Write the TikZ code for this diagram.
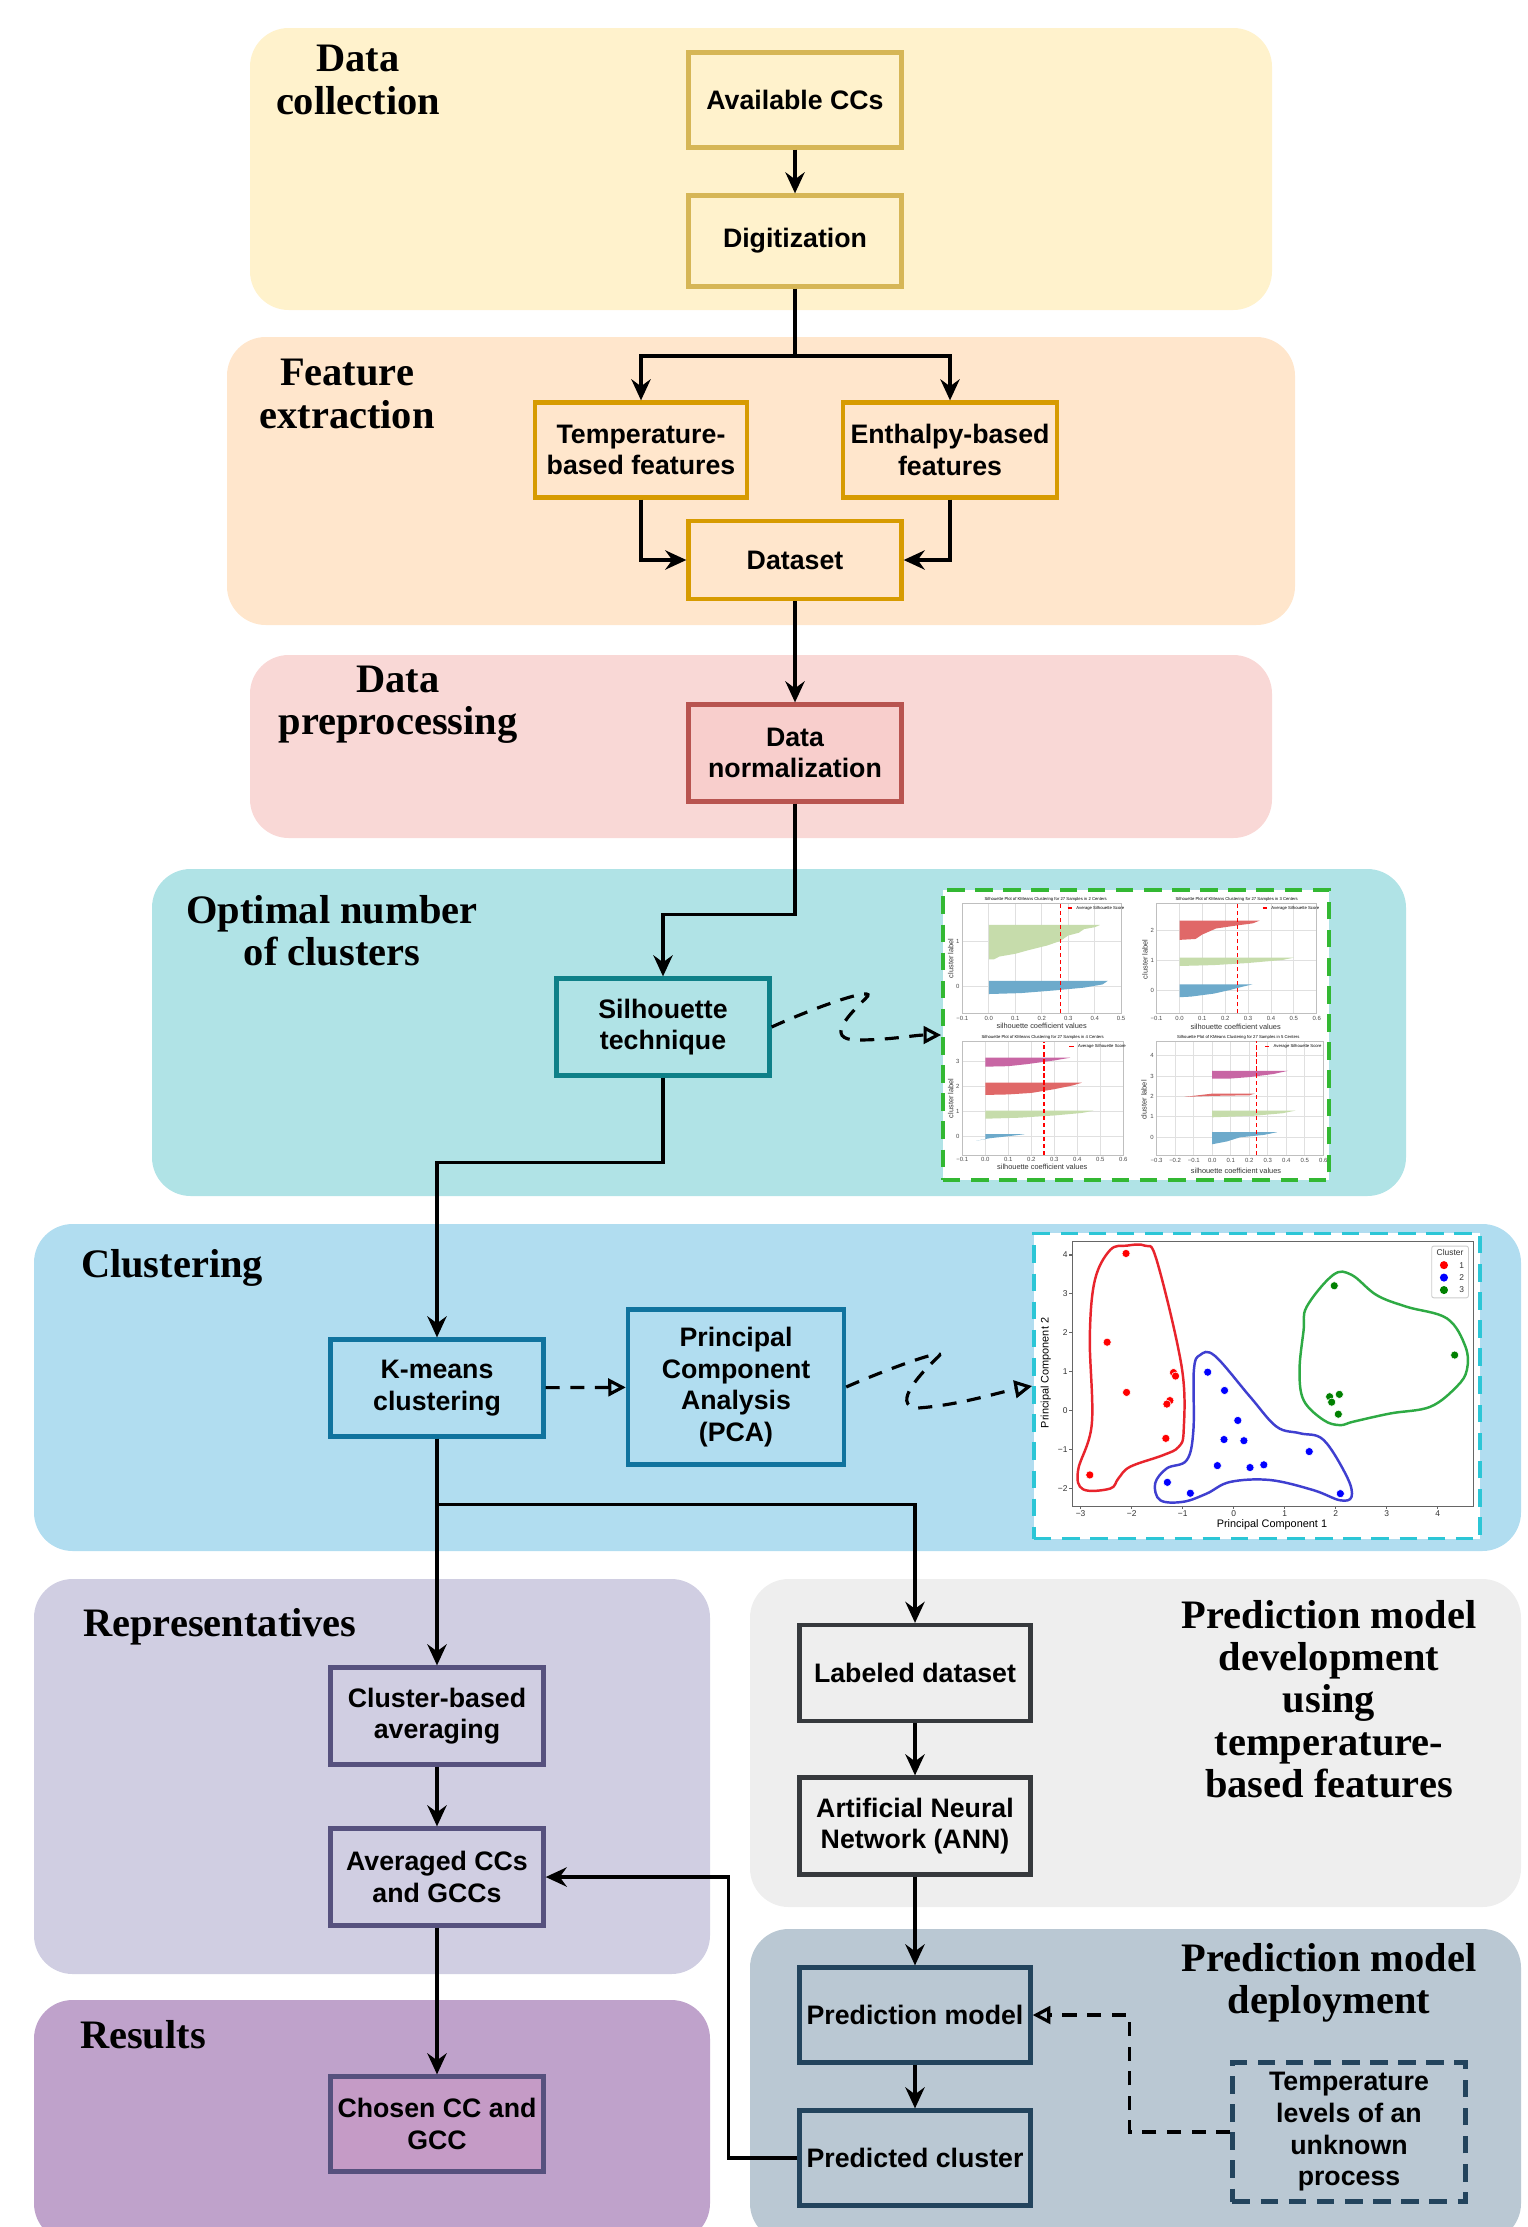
\documentclass[tikz,border=0pt]{standalone}
\usepackage{fontspec}
\setmainfont{Liberation Serif}
\setsansfont{Liberation Sans}
\usetikzlibrary{arrows.meta,positioning}

% panel and box colours
\definecolor{collectbg}{HTML}{FFF2CC}
\definecolor{collectln}{HTML}{D6B656}
\definecolor{featurebg}{HTML}{FFE6CC}
\definecolor{featureln}{HTML}{D79B00}
\definecolor{prepbg}{HTML}{F9D8D6}
\definecolor{prepbox}{HTML}{F8CECC}
\definecolor{prepln}{HTML}{B85450}
\definecolor{optbg}{HTML}{B0E3E6}
\definecolor{optln}{HTML}{0E8088}
\definecolor{clustbg}{HTML}{B1DDF0}
\definecolor{clustln}{HTML}{10739E}
\definecolor{reprbg}{HTML}{D0CEE2}
\definecolor{reprln}{HTML}{56517E}
\definecolor{resbg}{HTML}{BFA2CB}
\definecolor{resbox}{HTML}{C59BC6}
\definecolor{devbg}{HTML}{EEEEEE}
\definecolor{devln}{HTML}{36393D}
\definecolor{depbg}{HTML}{BAC8D3}
\definecolor{depln}{HTML}{23445D}
% plot colours
\definecolor{silframe}{HTML}{33B833}
\definecolor{pcaframe}{HTML}{2CC6D6}
\definecolor{silgreen}{HTML}{C6DCAB}
\definecolor{silblue}{HTML}{6DAACB}
\definecolor{silred}{HTML}{E06868}
\definecolor{silmag}{HTML}{C866A4}
\definecolor{ptred}{HTML}{FF0000}
\definecolor{ptblue}{HTML}{0000FF}
\definecolor{ptgreen}{HTML}{008000}
\definecolor{hullred}{HTML}{E8242C}
\definecolor{hullblue}{HTML}{3F3FD0}
\definecolor{hullgreen}{HTML}{2EAA44}

\newcommand{\boxfont}{\sffamily\bfseries\fontsize{7.6}{9}\selectfont}
\newcommand{\titlefont}{\rmfamily\bfseries\fontsize{11.5}{12}\selectfont}
\newcommand{\plotfont}[1]{\sffamily\fontsize{#1}{#1}\selectfont}

\tikzset{
  panel/.style={rounded corners=11pt},
  paneltitle/.style={font=\titlefont, align=center, inner sep=0pt},
  stepbox/.style={rectangle, line width=1.2pt, align=center, inner sep=1pt,
    font=\boxfont, minimum width=2.13cm, minimum height=0.95cm},
  flow/.style={line width=0.9pt, -{Stealth[length=6pt,width=5.5pt,inset=2pt]}},
  hintflow/.style={line width=0.9pt, dash pattern=on 4pt off 3pt,
    -{Triangle[open,length=5pt,width=5pt]}},
  plotframe/.style={line width=1pt, dash pattern=on 5pt off 3pt, fill=white},
  gridline/.style={black!12, line width=0.25pt},
  ticklbl/.style={font=\plotfont{1.7}, text=black!70, inner sep=0.6pt},
  axlbl/.style={font=\plotfont{2.1}, text=black!80, inner sep=0pt},
  plottitle/.style={font=\plotfont{1.2}, inner sep=0pt},
  avgline/.style={red, line width=0.35pt, dash pattern=on 1.2pt off 0.8pt},
  pcatick/.style={font=\plotfont{2.4}, text=black!80, inner sep=0.6pt},
  pcalbl/.style={font=\plotfont{3.1}, inner sep=0pt},
}

% grid, ticks and frame of one silhouette subplot
\newcommand{\silaxes}[6]{%
  \foreach \v/\l in {#5} {%
    \draw[gridline] (\v,#3) -- (\v,#4);
    \node[ticklbl, below] at (\v,#3) {\l};
  }
  \foreach \v in {#6} {%
    \draw[gridline] (#1,\v) -- (#2,\v);
    \node[ticklbl, left] at (#1,\v) {\v};
  }
  \draw[black!25, line width=0.25pt] (#1,#3) rectangle (#2,#4);
}

\begin{document}
\begin{tikzpicture}[x=0.01cm, y=-0.01cm]
\useasboundingbox (0,0) rectangle (1528,2227);

% stage panels
\fill[panel, collectbg] (250,28) rectangle (1272,310);
\fill[panel, featurebg] (227,337) rectangle (1295,625);
\fill[panel, prepbg] (250,655) rectangle (1272,838);
\fill[panel, optbg] (152,869) rectangle (1406,1196);
\fill[panel, clustbg] (34,1224) rectangle (1521,1551);
\fill[panel, reprbg] (34,1579) rectangle (710,1974);
\fill[panel, resbg] (34,2000) rectangle (710,2242);
\fill[panel, devbg] (750,1579) rectangle (1521,1907);
\fill[panel, depbg] (750,1929) rectangle (1521,2242);

\node[paneltitle] (tcollect) at (358,80) {Data\\collection};
\node[paneltitle] (tfeature) at (347,394) {Feature\\extraction};
\node[paneltitle] (tprep) at (398,705) {Data\\preprocessing};
\node[paneltitle] (topt) at (332,931) {Optimal number\\of clusters};
\node[paneltitle] (tclust) at (172,1268) {Clustering};
\node[paneltitle] (trepr) at (220,1627) {Representatives};
\node[paneltitle] (tres) at (143,2035) {Results};
\node[paneltitle] (tdev) at (1329,1699) {Prediction model\\development\\using\\temperature-\\based features};
\node[paneltitle] (tdep) at (1329,1983) {Prediction model\\deployment};

% steps
\node[stepbox, fill=collectbg, draw=collectln] (avail) at (795,100) {Available CCs};
\node[stepbox, fill=collectbg, draw=collectln, minimum height=0.91cm] (digit) at (795,241) {Digitization};
\node[stepbox, fill=featurebg, draw=featureln, minimum width=2.12cm] (tempf) at (641,450) {Temperature-\\based features};
\node[stepbox, fill=featurebg, draw=featureln, minimum width=2.14cm] (enthf) at (950,450) {Enthalpy-based\\features};
\node[stepbox, fill=featurebg, draw=featureln, minimum height=0.78cm] (dataset) at (795,560) {Dataset};
\node[stepbox, fill=prepbox, draw=prepln, minimum height=0.97cm] (norm) at (795,753) {Data\\normalization};
\node[stepbox, fill=optbg, draw=optln, minimum height=0.97cm] (silh) at (663,1027) {Silhouette\\technique};
\node[stepbox, fill=clustbg, draw=clustln, minimum height=0.97cm] (kmeans) at (437,1388) {K-means\\clustering};
\node[stepbox, fill=clustbg, draw=clustln, minimum width=2.16cm, minimum height=1.55cm] (pca) at (736,1387) {Principal\\Component\\Analysis\\(PCA)};
\node[stepbox, fill=reprbg, draw=reprln, minimum height=0.97cm] (cba) at (437,1716) {Cluster-based\\averaging};
\node[stepbox, fill=reprbg, draw=reprln, minimum height=0.97cm] (avg) at (437,1877) {Averaged CCs\\and GCCs};
\node[stepbox, fill=resbox, draw=reprln] (chosen) at (437,2124) {Chosen CC and\\GCC};
\node[stepbox, fill=devbg, draw=devln, minimum width=2.31cm, minimum height=0.96cm] (labeled) at (915,1673) {Labeled dataset};
\node[stepbox, fill=devbg, draw=devln, minimum width=2.31cm, minimum height=0.97cm] (ann) at (915,1826) {Artificial Neural\\Network (ANN)};
\node[stepbox, fill=depbg, draw=depln, minimum width=2.31cm] (predmodel) at (915,2015) {Prediction model};
\node[stepbox, fill=depbg, draw=depln, minimum width=2.31cm] (predcl) at (915,2158) {Predicted cluster};
\node[stepbox, draw=depln, dash pattern=on 5pt off 3pt, minimum width=2.33cm, minimum height=1.39cm] (templev) at (1349,2132) {Temperature\\levels of an\\unknown\\process};

% silhouette plots
\node[plotframe, draw=silframe, minimum width=3.86cm, minimum height=2.9cm] (silimg) at (1136,1035) {};
\begin{scope}[shift={(988.8,986.7)}, x=2.645cm, y=0.457cm]
  \silaxes{-0.1}{0.5}{-0.58}{1.82}{-0.1/−0.1,0/0.0,0.1/0.1,0.2/0.2,0.3/0.3,0.4/0.4,0.5/0.5}{0,1}
  \fill[silgreen] (0,1.35) -- (0.42,1.35) -- (0.40,1.30) -- (0.36,1.26) -- (0.34,1.18) -- (0.30,1.12) -- (0.27,1.0) -- (0.22,0.9) -- (0.15,0.8) -- (0.1,0.72) -- (0.04,0.66) -- (0.02,0.6) -- (0,0.6) -- cycle;
  \fill[silblue] (0,0.13) -- (0.45,0.13) -- (0.43,0.05) -- (0.36,-0.02) -- (0.25,-0.08) -- (0.12,-0.14) -- (0,-0.16) -- cycle;
  \draw[avgline] (0.27,-0.58) -- (0.27,1.82);
\end{scope}
\begin{scope}[shift={(1179.5,990)}, x=2.286cm, y=0.30cm]
  \silaxes{-0.1}{0.6}{-0.78}{2.89}{-0.1/−0.1,0/0.0,0.1/0.1,0.2/0.2,0.3/0.3,0.4/0.4,0.5/0.5,0.6/0.6}{0,1,2}
  \fill[silred] (0,2.31) -- (0.35,2.31) -- (0.32,2.22) -- (0.25,2.15) -- (0.16,2.05) -- (0.1,1.85) -- (0.07,1.7) -- (0,1.67) -- cycle;
  \fill[silgreen] (0,1.08) -- (0.5,1.08) -- (0.45,1.0) -- (0.3,0.9) -- (0.15,0.83) -- (0,0.8) -- cycle;
  \fill[silblue] (0,0.19) -- (0.32,0.19) -- (0.27,0.1) -- (0.22,0.0) -- (0.15,-0.12) -- (0.05,-0.22) -- (0,-0.24) -- cycle;
  \draw[avgline] (0.255,-0.78) -- (0.255,2.89);
\end{scope}
\begin{scope}[shift={(985.3,1136.7)}, x=2.30cm, y=0.25cm]
  \silaxes{-0.1}{0.6}{-0.73}{3.8}{-0.1/−0.1,0/0.0,0.1/0.1,0.2/0.2,0.3/0.3,0.4/0.4,0.5/0.5,0.6/0.6}{0,1,2,3}
  \fill[silmag] (0,3.16) -- (0.37,3.16) -- (0.3,3.05) -- (0.18,2.9) -- (0.1,2.82) -- (0,2.8) -- cycle;
  \fill[silred] (0,2.16) -- (0.42,2.16) -- (0.38,2.05) -- (0.3,1.9) -- (0.2,1.75) -- (0.1,1.69) -- (0,1.67) -- cycle;
  \fill[silgreen] (0,1.04) -- (0.47,1.04) -- (0.42,0.95) -- (0.3,0.85) -- (0.15,0.76) -- (0,0.72) -- cycle;
  \fill[silblue] (0,0.1) -- (0.17,0.1) -- (0.1,0.02) -- (0.02,-0.06) -- (-0.04,-0.16) -- (0,-0.1) -- cycle;
  \draw[avgline] (0.255,-0.73) -- (0.255,3.8);
\end{scope}
\begin{scope}[shift={(1212.2,1137.3)}, x=1.852cm, y=0.204cm]
  \silaxes{-0.3}{0.6}{-0.87}{4.7}{-0.3/−0.3,-0.2/−0.2,-0.1/−0.1,0/0.0,0.1/0.1,0.2/0.2,0.3/0.3,0.4/0.4,0.5/0.5,0.6/0.6}{0,1,2,3,4}
  \fill[silmag] (0,3.26) -- (0.41,3.26) -- (0.33,3.1) -- (0.2,2.95) -- (0.1,2.88) -- (0,2.87) -- cycle;
  \fill[silred] (0,2.14) -- (0.23,2.14) -- (0.2,2.06) -- (0,2.03) -- (-0.15,1.98) -- cycle;
  \fill[silgreen] (0,1.31) -- (0.45,1.31) -- (0.38,1.18) -- (0.22,1.05) -- (0,0.98) -- cycle;
  \fill[silblue] (0,0.25) -- (0.35,0.25) -- (0.28,0.12) -- (0.15,0.0) -- (0.08,-0.2) -- (0,-0.34) -- cycle;
  \draw[avgline] (0.24,-0.87) -- (0.24,4.7);
\end{scope}
\node[plottitle] at (1045.7,899.3) {Silhouette Plot of KMeans Clustering for 27 Samples in 2 Centers};
\node[plottitle] at (1236.7,899.3) {Silhouette Plot of KMeans Clustering for 27 Samples in 3 Centers};
\node[plottitle] at (1042.7,1037.7) {Silhouette Plot of KMeans Clustering for 27 Samples in 4 Centers};
\node[plottitle] at (1238.3,1037.7) {Silhouette Plot of KMeans Clustering for 27 Samples in 5 Centers};
\foreach \lx/\ly in {1067.7/908, 1262.7/908, 1069.3/1046.7, 1265/1046.7} {
  \draw[avgline] (\lx,\ly) -- ++(6,0);
  \node[plottitle, anchor=west] at (\lx+8,\ly) {Average Silhouette Score};
}
\node[axlbl] at (1041.7,1025.7) {silhouette coefficient values};
\node[axlbl] at (1235.7,1026.7) {silhouette coefficient values};
\node[axlbl] at (1042.3,1167.3) {silhouette coefficient values};
\node[axlbl] at (1236,1170.7) {silhouette coefficient values};
\node[axlbl, rotate=90] at (950.7,958.3) {cluster label};
\node[axlbl, rotate=90] at (1145,959.3) {cluster label};
\node[axlbl, rotate=90] at (950.7,1098.3) {cluster label};
\node[axlbl, rotate=90] at (1144,1100) {cluster label};

% PCA scatter plot
\node[plotframe, draw=pcaframe, minimum width=4.46cm, minimum height=3.05cm] (pcaimg) at (1257,1386) {};
\begin{scope}[shift={(1233.7,1410.7)}, x=0.51cm, y=0.389cm]
  \draw[black!60, line width=0.3pt] (-3.16,-2.45) rectangle (4.70,4.34);
  \foreach \v/\l in {-3/−3,-2/−2,-1/−1,0/0,1/1,2/2,3/3,4/4} {
    \draw[black!60, line width=0.3pt] (\v,-2.45) -- ++(0,-0.08);
    \node[pcatick, below] at (\v,-2.5) {\l};
  }
  \foreach \v/\l in {-2/−2,-1/−1,0/0,1/1,2/2,3/3,4/4} {
    \draw[black!60, line width=0.3pt] (-3.16,\v) -- ++(-0.06,0);
    \node[pcatick, left] at (-3.2,\v) {\l};
  }
  \draw[hullred, line width=0.7pt] plot[smooth cycle, tension=0.6] coordinates {(-2.1,4.24) (-1.74,4.24) (-1.51,3.87) (-1.02,1.13) (-0.98,-0.5) (-1.08,-0.93) (-1.38,-1.14) (-2.03,-1.44) (-2.26,-1.74) (-2.42,-2.0) (-2.95,-2.02) (-3.05,-1.53) (-2.78,-0.33) (-2.82,1.9) (-2.72,3.36) (-2.42,4.13)};
  \draw[hullblue, line width=0.7pt] plot[smooth cycle, tension=0.6] coordinates {(-0.66,1.43) (-0.37,1.41) (0.32,0.36) (0.84,-0.41) (1.3,-0.58) (1.76,-0.75) (2.22,-1.7) (2.31,-2.21) (2.08,-2.3) (1.56,-2.04) (0.71,-1.78) (-0.07,-1.83) (-0.53,-2.13) (-0.99,-2.34) (-1.44,-2.3) (-1.54,-1.87) (-1.31,-1.48) (-0.92,-1.27) (-0.79,-0.5) (-0.78,1.05)};
  \draw[hullgreen, line width=0.7pt] plot[smooth cycle, tension=0.6] coordinates {(1.43,2.67) (1.95,3.49) (2.31,3.49) (2.80,2.97) (3.39,2.67) (4.18,2.37) (4.54,1.65) (4.57,1.05) (4.37,0.62) (3.85,0.1) (3.07,-0.07) (2.35,-0.28) (2.08,-0.37) (1.76,-0.24) (1.37,0.27) (1.29,1.05) (1.37,2.07)};
  \foreach \px/\py in {-2.11/4.04, -2.48/1.76, -2.10/0.47, -1.18/0.98, -1.14/0.89, -1.25/0.26, -1.31/0.17, -1.33/-0.71, -2.82/-1.65}
    \fill[ptred, draw=white, line width=0.15pt] (\px,\py) circle[radius=1.15pt];
  \foreach \px/\py in {-0.51/0.99, -0.18/0.52, 0.08/-0.25, -0.19/-0.74, 0.20/-0.77, 1.48/-1.05, -0.32/-1.41, 0.32/-1.46, 0.59/-1.39, -1.30/-1.84, -0.85/-2.12, 2.09/-2.13}
    \fill[ptblue, draw=white, line width=0.15pt] (\px,\py) circle[radius=1.15pt];
  \foreach \px/\py in {1.97/3.21, 4.33/1.43, 1.88/0.36, 2.07/0.42, 1.92/0.22, 2.05/-0.09}
    \fill[ptgreen, draw=white, line width=0.15pt] (\px,\py) circle[radius=1.15pt];
  \draw[black!20, fill=white, rounded corners=0.6pt, line width=0.25pt] (3.88,2.9) rectangle (4.6,4.23);
  \node[pcatick] at (4.24,4.06) {Cluster};
  \foreach \ly/\lc/\ln in {3.74/ptred/1, 3.42/ptblue/2, 3.10/ptgreen/3} {
    \fill[\lc] (4.12,\ly) circle[radius=1.15pt];
    \node[pcatick] at (4.47,\ly) {\ln};
  }
  \node[pcalbl] at (0.75,-2.94) {Principal Component 1};
  \node[pcalbl, rotate=90] at (-3.68,0.97) {Principal Component 2};
\end{scope}

% connectors
\coordinate (split) at (795,356);
\draw[flow] (avail) -- (digit);
\draw[line width=0.9pt] (digit) -- (split);
\draw[flow] (split) -| (tempf);
\draw[flow] (split) -| (enthf);
\draw[flow] (tempf.south) |- (dataset.west);
\draw[flow] (enthf.south) |- (dataset.east);
\draw[flow] (dataset) -- (norm);
\draw[flow] (norm.south) -- ++(0,111) -| (silh);
\draw[flow] (silh.south) -- ++(0,85) -| (kmeans);
\draw[flow] (kmeans) -- (cba);
\draw[flow] (kmeans.south) -- ++(0,66) -| (labeled);
\draw[flow] (cba) -- (avg);
\draw[flow] (avg) -- (chosen);
\draw[flow] (labeled) -- (ann);
\draw[flow] (ann) -- (predmodel);
\draw[flow] (predmodel) -- (predcl);
\draw[flow] (predcl.west) -- ++(-69,0) |- (avg.east);
\draw[hintflow] (kmeans) -- (pca);
\draw[hintflow] (templev.west) -- ++(-101,0) |- (predmodel.east);
\draw[hintflow] (silh.east) .. controls (820,1005) and (880,985) .. (866,998)
  .. controls (852,1012) and (822,1040) .. (858,1040)
  .. controls (890,1040) and (915,1035) .. (silimg.west);
\draw[hintflow] (pca.east) .. controls (880,1372) and (952,1345) .. (938,1357)
  .. controls (926,1368) and (888,1406) .. (918,1408)
  .. controls (960,1405) and (1000,1392) .. (pcaimg.west);
\end{tikzpicture}
\end{document}
